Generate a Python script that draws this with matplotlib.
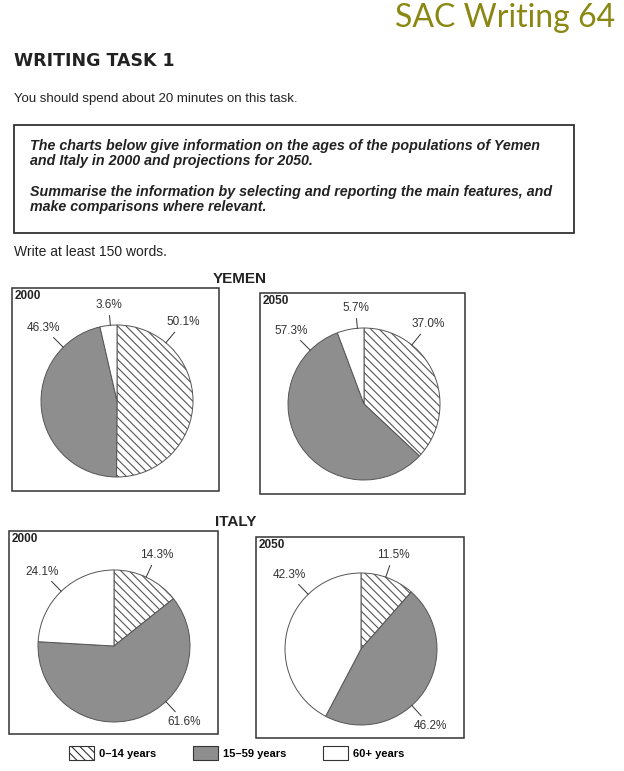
import numpy as np
import matplotlib.pyplot as plt
from matplotlib.patches import Rectangle, Patch

## Data
groups = ["0\u201314 years", "15\u201359 years", "60+ years"]
yemen_2000 = [50.1, 46.3, 3.6]
yemen_2050 = [37.0, 57.3, 5.7]
italy_2000 = [14.3, 61.6, 24.1]
italy_2050 = [11.5, 46.2, 42.3]

## Page size in pixels
W, H = 624, 771

plain = ['Liberation Sans', 'DejaVu Sans']

plt.rcParams['hatch.linewidth'] = 0.8
plt.rcParams['hatch.color'] = '#333333'

fig = plt.figure(figsize=(W / 100, H / 100), dpi=100)
fig.patch.set_facecolor('white')


def fx(x):
    return x / W


def fy(y):
    return 1 - y / H


def box(x1, y1, x2, y2, lw=1.1):
    fig.add_artist(Rectangle((fx(x1), fy(y2)), (x2 - x1) / W, (y2 - y1) / H,
                             transform=fig.transFigure, fill=False,
                             edgecolor='#333333', linewidth=lw))


# Header texts
fig.text(fx(615), fy(18), "SAC Writing 64", ha='right', va='center',
         fontsize=23, color='#8a8812', family=['Lato', 'DejaVu Sans'])
fig.text(fx(14), fy(61), "WRITING TASK 1", ha='left', va='center',
         fontsize=12.5, fontweight='bold', family='DejaVu Sans', color='#222222')
fig.text(fx(14), fy(99), "You should spend about 20 minutes on this task.",
         ha='left', va='center', fontsize=9.5, family=plain, color='#222222')

box(14, 125, 574, 233, lw=1.3)
task_lines = [
    (146, "The charts below give information on the ages of the populations of Yemen"),
    (161, "and Italy in 2000 and projections for 2050."),
    (192, "Summarise the information by selecting and reporting the main features, and"),
    (207, "make comparisons where relevant."),
]
for y, s in task_lines:
    fig.text(fx(30), fy(y), s, ha='left', va='center', fontsize=10.25,
             fontweight='bold', style='italic', family=plain, color='#222222')

fig.text(fx(14), fy(252), "Write at least 150 words.", ha='left', va='center',
         fontsize=10, family=plain, color='#222222')

fig.text(fx(240), fy(279), "YEMEN", ha='center', va='center', fontsize=11,
         fontweight='bold', family=plain, color='#222222')
fig.text(fx(236), fy(522), "ITALY", ha='center', va='center', fontsize=11,
         fontweight='bold', family=plain, color='#222222')

colors = ['white', '#8e8e8e', 'white']
hatches = ['\\\\\\\\', '', '']

# (values, year, frame, pie centre, label angles)
charts = [
    (yemen_2000, "2000", (12, 288, 219, 491), (117, 401), [50, 135, 95]),
    (yemen_2050, "2050", (260, 293, 465, 494), (364, 404), [51, 135, 95]),
    (italy_2000, "2000", (9, 531, 218, 734), (114, 646), [65, -47, 134]),
    (italy_2050, "2050", (256, 537, 464, 738), (361, 649), [71, -48, 134]),
]

R = 76
for vals, year, frame, centre, angles in charts:
    box(*frame)
    fig.text(fx(frame[0] + 3), fy(frame[1] + 8), year, ha='left', va='center',
             fontsize=8.5, fontweight='bold', family=plain, color='#222222')
    cx, cy = centre
    ax = fig.add_axes([fx(cx - R), fy(cy + R), 2 * R / W, 2 * R / H])
    wedges, _ = ax.pie(vals, startangle=90, counterclock=False,
                       colors=colors, hatch=hatches, radius=1,
                       wedgeprops=dict(edgecolor='#555555', linewidth=0.7))
    ax.set_xlim(-1, 1)
    ax.set_ylim(-1, 1)
    ax.set_aspect('equal')
    ax.axis('off')
    for v, a in zip(vals, angles):
        t = np.deg2rad(a)
        rt = 1.25 + 0.16 * abs(np.cos(t))
        ax.annotate(f"{v:.1f}%", xy=(np.cos(t), np.sin(t)),
                    xytext=(rt * np.cos(t), rt * np.sin(t)),
                    ha='center', va='center', fontsize=8.5, family=plain,
                    color='#333333', annotation_clip=False,
                    arrowprops=dict(arrowstyle='-', color='#333333', lw=0.7,
                                    shrinkA=1, shrinkB=0))

# Legend
handles = [Patch(facecolor=c, edgecolor='#333333', hatch=h, linewidth=0.8)
           for c, h in zip(colors, hatches)]
fig.legend(handles, groups, loc='center left', bbox_to_anchor=(fx(59), fy(753)),
           ncol=3, frameon=False, handlelength=2.25, handleheight=1.6,
           handletextpad=0.45, columnspacing=3.3,
           prop=dict(family=plain, weight='bold', size=8))

plt.savefig('out.png', dpi=100)
